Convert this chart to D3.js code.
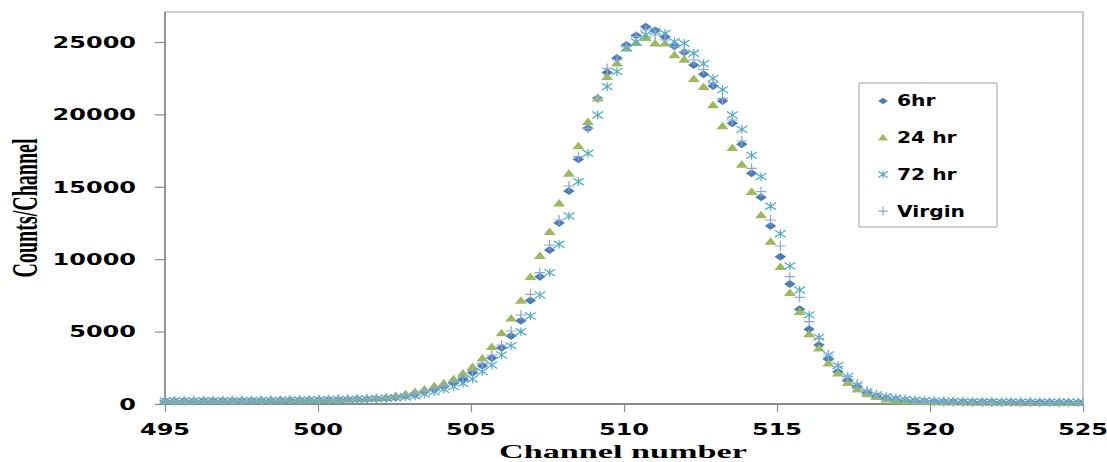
<!DOCTYPE html>
<html><head><meta charset="utf-8">
<script src="https://cdn.jsdelivr.net/npm/d3@7"></script>
<style>html,body{margin:0;padding:0;background:#fff;} svg{display:block}</style>
</head><body><svg id="c" width="1107" height="462"></svg>
<script>
// ---------------- DATA ----------------
const channels = [495.00,495.31,495.63,495.94,496.26,496.57,496.89,497.20,497.51,497.83,
498.14,498.46,498.77,499.08,499.40,499.71,500.03,500.34,500.66,500.97,
501.28,501.60,501.91,502.23,502.54,502.86,503.17,503.48,503.80,504.11,
504.43,504.74,505.05,505.37,505.68,506.00,506.31,506.63,506.94,507.25,
507.57,507.88,508.20,508.51,508.82,509.14,509.45,509.77,510.08,510.40,
510.71,511.02,511.34,511.65,511.97,512.28,512.60,512.91,513.22,513.54,
513.85,514.17,514.48,514.79,515.11,515.42,515.74,516.05,516.37,516.68,
516.99,517.31,517.62,517.94,518.25,518.57,518.88,519.19,519.51,519.82,
520.14,520.45,520.76,521.08,521.39,521.71,522.02,522.34,522.65,522.96,
523.28,523.59,523.91,524.22,524.53,524.85];

const counts6hr = [200,204,208,212,216,220,224,229,234,239,
244,250,256,262,269,276,284,292,301,311,
322,336,355,395,450,560,680,840,1000,1195,
1471,1726,2162,2645,3180,3880,4696,5753,7150,8780,
10630,12500,14710,16900,19040,21110,22900,23900,24800,25450,
26050,25800,25350,24700,24300,23420,22770,21960,20920,19385,
17935,15930,14275,12290,10170,8290,6540,5160,4075,3090,
2230,1610,1195,780,550,395,310,250,210,185,
170,160,152,146,140,135,131,127,124,121,
118,116,114,112,110,108];

const counts24hr = [205,209,213,217,221,225,230,235,240,245,
251,257,264,271,279,287,296,306,318,332,
348,368,410,470,573,690,850,1015,1243,1430,
1726,2120,2576,3156,3950,4900,5918,7150,8790,10244,
11900,13860,15930,17820,19500,21110,22600,23530,24565,24950,
25300,24910,24910,24100,23800,22460,21915,20650,19200,17700,
16550,14660,13050,11230,9480,7690,6370,4830,3850,2810,
2120,1470,1015,690,505,325,250,200,170,150,
138,130,124,118,113,109,105,102,99,96,
94,92,90,88,87,86];

const counts72hr = [210,212,215,218,222,226,230,234,238,243,
248,253,259,265,272,280,289,298,308,320,
335,352,372,395,430,480,560,680,840,1015,
1195,1430,1726,2231,2693,3384,4028,4993,6077,7528,
9068,11029,12983,15352,17314,19958,21915,22949,24600,25000,
25500,25750,25600,25020,24910,24220,23500,22490,21710,19960,
18970,17170,15700,13660,11760,9530,7870,6150,4606,3384,
2645,1885,1312,850,622,504,400,320,262,225,
200,185,173,164,156,150,145,140,136,132,
129,126,123,121,119,117];

const countsVirgin = [215,218,222,226,230,234,238,243,248,253,
258,264,270,277,285,294,304,315,328,343,
360,380,405,440,500,600,720,880,1060,1250,
1520,1850,2300,2811,3384,4075,5041,6146,7576,9068,
10981,12707,15055,17079,19040,21110,23184,23757,24677,25365,
25829,25483,25138,24677,24330,23757,23100,22190,21100,19613,
18163,16277,14661,12707,10911,8791,7369,5684,4537,3384,
2576,1885,1381,900,640,470,370,300,250,215,
190,175,163,154,147,141,136,132,128,125,
122,120,118,116,114,112];

const seriesNames = ["6hr", "24 hr", "72 hr", "Virgin"];
const xTickValues = [495, 500, 505, 510, 515, 520, 525];
const yTickValues = [0, 5000, 10000, 15000, 20000, 25000];
const xTitle = "Channel number";
const yTitle = "Counts/Channel";

// ---------------- SYMBOLS ----------------
const diamondType = {draw(ctx, size){ const h = Math.sqrt(size)/2;
  ctx.moveTo(0,-h); ctx.lineTo(h*1.45,0); ctx.lineTo(0,h); ctx.lineTo(-h*1.45,0); ctx.closePath(); }};
const triangleType = {draw(ctx, size){ const s = Math.sqrt(size)/2;
  ctx.moveTo(0,-1.1*s); ctx.lineTo(1.55*s,0.85*s); ctx.lineTo(-1.55*s,0.85*s); ctx.closePath(); }};
const asteriskType = {draw(ctx, size){ const s = Math.sqrt(size)/7;
  ctx.moveTo(0,-4*s); ctx.lineTo(0,4*s);
  ctx.moveTo(-5*s,-3.2*s); ctx.lineTo(5*s,3.2*s);
  ctx.moveTo(-5*s,3.2*s); ctx.lineTo(5*s,-3.2*s); }};
const plusType = {draw(ctx, size){ const s = Math.sqrt(size)/7;
  ctx.moveTo(-5*s,0); ctx.lineTo(5*s,0);
  ctx.moveTo(0,-4.6*s); ctx.lineTo(0,4.6*s); }};

const styles = [
  {type: diamondType, fill: "#4a7ebb", stroke: "none", sw: 0, size: 64},
  {type: triangleType, fill: "#9bbb59", stroke: "none", sw: 0, size: 60},
  {type: asteriskType, fill: "none", stroke: "#4bacc6", sw: 1.2, size: 56},
  {type: plusType, fill: "none", stroke: "#8aa5dc", sw: 1.2, size: 56}
];
const seriesValues = [counts6hr, counts24hr, counts72hr, countsVirgin];

// ---------------- CHART ----------------
const svg = d3.select("#c");
const x = d3.scaleLinear().domain([495, 525]).range([165, 1083]);
const y = d3.scaleLinear().domain([0, 25000]).range([404, 42]);
const plotTop = 12;
const axisColor = "#8a8a8a";
const sans = "'DejaVu Sans', Verdana, sans-serif";
const serif = "'Liberation Serif', 'Times New Roman', serif";

// frame top / right
svg.append("line").attr("x1", x(495)).attr("x2", x(525)).attr("y1", plotTop).attr("y2", plotTop)
  .attr("stroke", "#a0a0a0").attr("stroke-width", 1.2);
svg.append("line").attr("x1", x(525)).attr("x2", x(525)).attr("y1", plotTop).attr("y2", y(0))
  .attr("stroke", "#a0a0a0").attr("stroke-width", 1.2);

// y axis ticks
const yAxis = svg.append("g").attr("transform", `translate(${x(495)},0)`)
  .call(d3.axisLeft(y).tickValues(yTickValues).tickSize(10).tickSizeOuter(0).tickFormat(""));
yAxis.select(".domain").remove();
yAxis.selectAll(".tick line").attr("stroke", axisColor).attr("stroke-width", 1.2);

// x axis ticks
const xAxis = svg.append("g").attr("transform", `translate(0,${y(0)})`)
  .call(d3.axisBottom(x).tickValues(xTickValues).tickSize(8).tickSizeOuter(0).tickFormat(""));
xAxis.select(".domain").remove();
xAxis.selectAll(".tick line").attr("stroke", axisColor).attr("stroke-width", 1.2);

// axis lines
svg.append("line").attr("x1", x(495)).attr("x2", x(495)).attr("y1", plotTop).attr("y2", y(0))
  .attr("stroke", axisColor).attr("stroke-width", 1.8);
svg.append("line").attr("x1", x(495)).attr("x2", x(525)).attr("y1", y(0)).attr("y2", y(0))
  .attr("stroke", axisColor).attr("stroke-width", 1.8);

// y tick labels
svg.append("g").selectAll("g").data(yTickValues).join("g")
  .attr("transform", d => `translate(136,${y(d)}) scale(1.5,1)`)
  .append("text").attr("text-anchor", "end").attr("dy", "0.36em")
  .attr("font-family", sans).attr("font-weight", "bold").attr("font-size", 16).attr("fill", "#000")
  .text(d => d);

// x tick labels
svg.append("g").selectAll("g").data(xTickValues).join("g")
  .attr("transform", d => `translate(${x(d)},435) scale(1.5,1)`)
  .append("text").attr("text-anchor", "middle")
  .attr("font-family", sans).attr("font-weight", "bold").attr("font-size", 16).attr("fill", "#000")
  .text(d => d);

// titles
svg.append("g").attr("transform", "translate(623,458) scale(1.8,1)")
  .append("text").attr("text-anchor", "middle")
  .attr("font-family", serif).attr("font-weight", "bold").attr("font-size", 19).attr("fill", "#000")
  .text(xTitle);
svg.append("g").attr("transform", "translate(37,208) scale(1.8,1) rotate(-90)")
  .append("text").attr("text-anchor", "middle")
  .attr("font-family", serif).attr("font-weight", "bold").attr("font-size", 20).attr("fill", "#000")
  .text(yTitle);

// markers
seriesValues.forEach((vals, si) => {
  const st = styles[si];
  const sym = d3.symbol().type(st.type).size(st.size);
  svg.append("g").selectAll("path").data(vals).join("path")
    .attr("transform", (d, i) => `translate(${x(channels[i])},${y(d)})`)
    .attr("d", sym())
    .attr("fill", st.fill).attr("stroke", st.stroke).attr("stroke-width", st.sw);
});

// legend
const lg = svg.append("g");
lg.append("rect").attr("x", 859).attr("y", 83).attr("width", 138).attr("height", 144)
  .attr("fill", "#fff").attr("stroke", "#a0a0a0").attr("stroke-width", 1);
seriesNames.forEach((name, i) => {
  const cy = 101 + i * 36.7;
  const st = styles[i];
  lg.append("path").attr("transform", `translate(883,${cy})`)
    .attr("d", d3.symbol().type(st.type).size(44)())
    .attr("fill", st.fill).attr("stroke", st.stroke).attr("stroke-width", st.sw);
  lg.append("g").attr("transform", `translate(897,${cy}) scale(1.35,1)`)
    .append("text").attr("dy", "0.36em")
    .attr("font-family", sans).attr("font-weight", "bold").attr("font-size", 15).attr("fill", "#000")
    .text(name);
});
</script>
</body></html>
